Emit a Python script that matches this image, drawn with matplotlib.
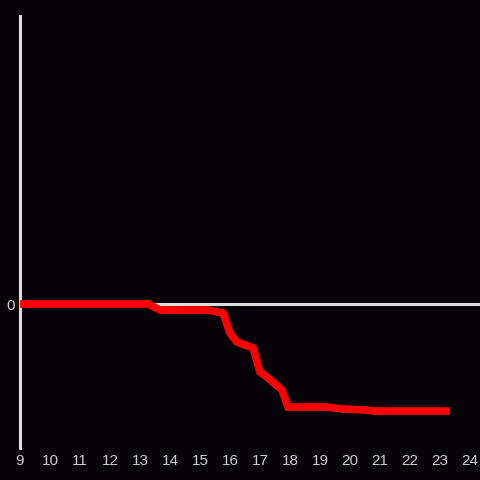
import matplotlib
matplotlib.use("Agg")
import matplotlib.pyplot as plt

# hours of the day and cumulative value
hours = [9.0, 13.27, 13.67, 15.23, 15.77, 16.0, 16.23, 16.77, 17.0, 17.27,
         17.73, 17.93, 19.23, 19.73, 20.57, 20.77, 23.33]
values = [0, 0, -6, -6, -9, -29, -38, -44, -68, -74,
          -86, -103, -103, -105, -106, -107, -107]

x_ticks = list(range(9, 25))
y_ticks = [0]

bg = "#050307"
fg = "#dddddd"

plt.rcParams["font.family"] = ["Liberation Sans", "DejaVu Sans"]

fig = plt.figure(figsize=(4.8, 4.8), dpi=100, facecolor=bg)
ax = fig.add_axes([20 / 480, 32 / 480, 460 / 480, 432 / 480], facecolor=bg)

ax.axhline(0, color=fg, linewidth=2.2, zorder=1)
ax.plot(hours, values, color="#ff0000", linewidth=5.5, solid_joinstyle="miter",
        solid_capstyle="butt", zorder=3, clip_on=False)

ax.set_xlim(9, 9 + 460 / 30)
ax.set_ylim(-144, 288)
ax.set_xticks(x_ticks)
ax.set_yticks(y_ticks)
ax.tick_params(colors="#cccccc", labelsize=11, length=0, pad=4)

for side in ["top", "right", "bottom"]:
    ax.spines[side].set_visible(False)
ax.spines["left"].set_color(fg)
ax.spines["left"].set_linewidth(2.2)
ax.spines["left"].set_zorder(2)

fig.savefig("out.png", dpi=100, facecolor=bg)
